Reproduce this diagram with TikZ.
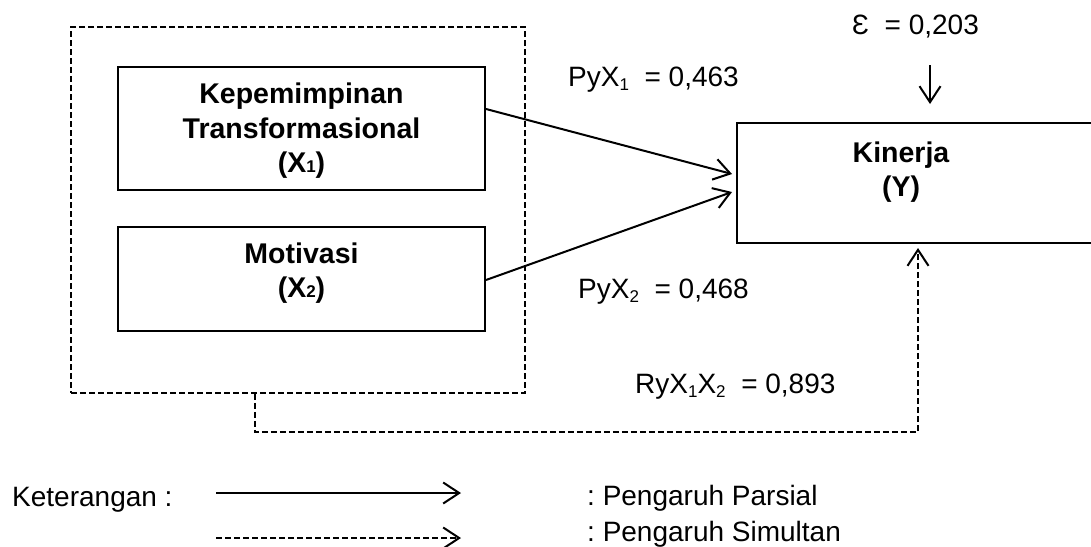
\documentclass[tikz,border=0pt]{standalone}
\usepackage{fontspec}
\setmainfont{Liberation Sans}
\usetikzlibrary{arrows.meta}
\frenchspacing
\newcommand\sbs[1]{\raisebox{-0.12em}{\fontsize{17}{17}\selectfont #1}}
\newcommand\sbb[1]{{\fontsize{17}{17}\selectfont #1}}
\tikzset{
  varbox/.style={draw, line width=2pt, rectangle, inner sep=0pt},
  grpbox/.style={draw, line width=1.7pt, dash pattern=on 6pt off 3pt, rectangle, inner sep=0pt},
  boxtext/.style={font=\fontsize{28.5}{34.5}\selectfont\bfseries, align=center, inner sep=0pt},
  lbl/.style={font=\fontsize{28}{34}\selectfont, inner sep=0pt, anchor=west},
  tip/.style={-{Straight Barb[length=16pt,width=21pt,line width=2pt]}},
  solid arrow/.style={tip, line width=2pt},
  dash arrow/.style={tip, line width=1.7pt, dash pattern=on 6pt off 3pt}
}
\begin{document}
\begin{tikzpicture}[x=1pt,y=-1pt]
\useasboundingbox (0,0) rectangle (1091,546);
% group box
\node[grpbox, minimum width=454pt, minimum height=366pt] (grp) at (298,210) {};
% X1
\node[varbox, minimum width=367pt, minimum height=123pt] (x1) at (301.5,128.5) {};
\node[boxtext] (x1t) at (301.5,131) {Kepemimpinan\\Transformasional\\(X\sbb{1})};
% X2
\node[varbox, minimum width=367pt, minimum height=104pt] (x2) at (301.5,279) {};
\node[boxtext] (x2t) at (301.5,273) {Motivasi\\(X\sbb{2})};
% Y
\node[varbox, minimum width=363pt, minimum height=120pt] (y) at (918.5,183) {};
\node[boxtext] (yt) at (901,172) {Kinerja\\(Y)};
% epsilon
\node[lbl] (eps) at (852,27) {Ɛ \ = 0,203};
\coordinate (epsfrom) at (930,65);
\draw[solid arrow] (epsfrom) -- ([xshift=11.5pt,yshift=18pt]y.north);
% path arrows
\draw[solid arrow] ([yshift=19.5pt]x1.east) -- ([xshift=-4pt,yshift=9pt]y.west);
\draw[solid arrow] ([yshift=-1pt]x2.east) -- ([xshift=-4pt,yshift=-9pt]y.west);
\node[lbl] (p1) at (568,80) {PyX\sbs{1} \ = 0,463};
\node[lbl] (p2) at (578,292) {PyX\sbs{2} \ = 0,468};
% simultaneous
\coordinate (corner) at (918,432);
\draw[dash arrow] ([xshift=-43pt]grp.south) |- (corner) -- ([xshift=-0.5pt,yshift=-4pt]y.south);
\node[lbl] (r) at (635,387) {RyX\sbs{1}X\sbs{2} \ = 0,893};
% legend
\node[lbl] (ket) at (12,500) {Keterangan :};
\coordinate (l1a) at (216,493);
\coordinate (l1b) at (461,493);
\coordinate (l2a) at (216,538);
\coordinate (l2b) at (461,538);
\draw[solid arrow] (l1a) -- (l1b);
\draw[dash arrow] (l2a) -- (l2b);
\node[lbl] (parsial) at (587,498) {: Pengaruh Parsial};
\node[lbl] (simultan) at (587,534) {: Pengaruh Simultan};
\end{tikzpicture}
\end{document}
